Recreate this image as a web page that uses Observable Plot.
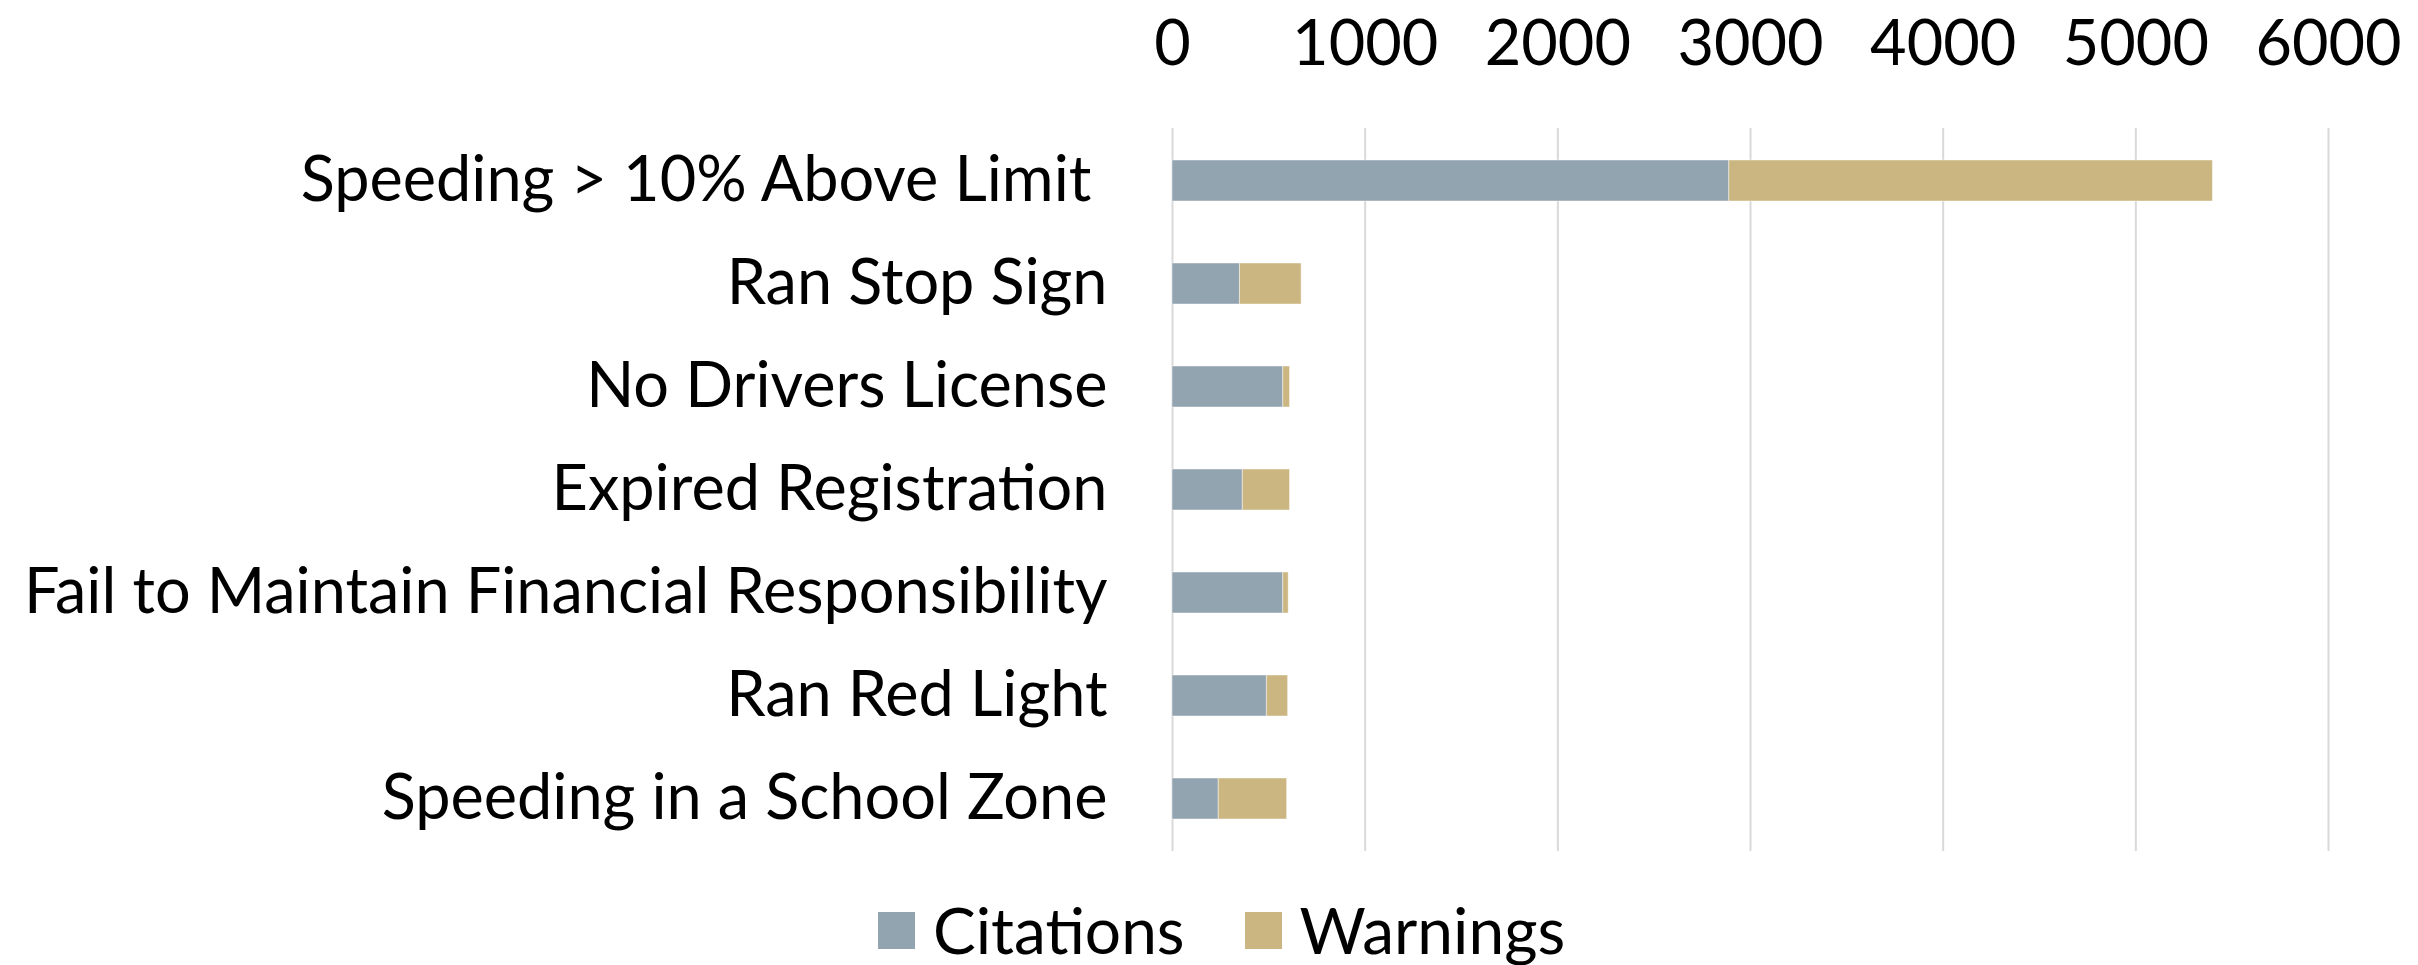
<!DOCTYPE html>
<html>
<head>
<meta charset="utf-8">
<script src="https://cdn.jsdelivr.net/npm/d3@7"></script>
<script src="https://cdn.jsdelivr.net/npm/@observablehq/plot@0.6"></script>
<style>
  html, body { margin: 0; padding: 0; background: #fff; }
  #wrap { position: relative; width: 2418px; height: 965px; font-family: 'Gill Sans', 'Gill Sans MT', Lato, sans-serif; }
  #legend { position: absolute; top: 898px; left: 878px; display: flex; align-items: center; font-size: 64px; line-height: 64px; color: #000; }
  .item { display: flex; align-items: center; }
  .sw { width: 37px; height: 37px; margin-right: 18px; }
  .item + .item { margin-left: 60px; }
</style>
</head>
<body>
<div id="wrap"><div id="chart"></div><div id="legend"></div></div>
<script>
const categories = [
  "Speeding > 10% Above Limit\u00a0",
  "Ran Stop Sign",
  "No Drivers License",
  "Expired Registration",
  "Fail to Maintain Financial Responsibility",
  "Ran Red Light",
  "Speeding in a School Zone"
];
const citations = [2890, 350, 575, 365, 575, 490, 240];
const warnings  = [2510, 320,  35, 245,  28, 110, 355];
const seriesNames = ["Citations", "Warnings"];
const seriesColors = ["#93a4b1", "#cbb682"];
const xTicks = [0, 1000, 2000, 3000, 4000, 5000, 6000];

const rows = categories.flatMap((c, i) => [
  {category: c, series: seriesNames[0], value: citations[i]},
  {category: c, series: seriesNames[1], value: warnings[i]}
]);

const chart = Plot.plot({
  width: 2418,
  height: 870,
  marginTop: 128,
  marginBottom: 19,
  marginLeft: 1172,
  marginRight: 90,
  style: {fontFamily: "'Gill Sans', 'Gill Sans MT', Lato, sans-serif", fontSize: "63px", color: "#000", background: "#fff"},
  x: {domain: [0, 6000]},
  y: {domain: categories, paddingInner: 0.6, paddingOuter: 0.3},
  color: {domain: seriesNames, range: seriesColors},
  marks: [
    Plot.gridX(xTicks, {stroke: "#d9d9d9", strokeOpacity: 1, strokeWidth: 2}),
    Plot.barX(rows, Plot.stackX({y: "category", x: "value", fill: "series", order: seriesNames, stroke: "#ffffff", strokeOpacity: 0.45, strokeWidth: 1})),
    Plot.axisX(xTicks, {anchor: "top", tickSize: 0, tickPadding: 64, label: null, fontSize: 63, tickFormat: d => String(d)}),
    Plot.axisY({anchor: "left", tickSize: 0, tickPadding: 65, label: null, fontSize: 63})
  ]
});
document.getElementById("chart").appendChild(chart);

const legend = document.getElementById("legend");
seriesNames.forEach((name, i) => {
  const item = document.createElement("div");
  item.className = "item";
  const sw = document.createElement("div");
  sw.className = "sw";
  sw.style.background = seriesColors[i];
  const label = document.createElement("span");
  label.textContent = name;
  item.appendChild(sw);
  item.appendChild(label);
  legend.appendChild(item);
});
</script>
</body>
</html>
